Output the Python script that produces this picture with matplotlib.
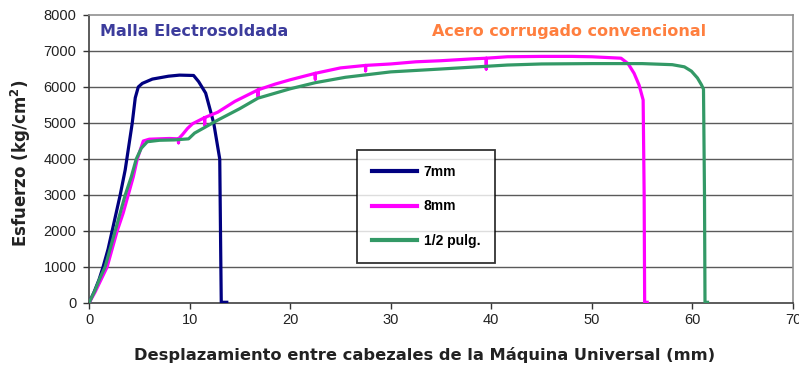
import matplotlib
matplotlib.use("Agg")
import matplotlib.pyplot as plt

plt.rcParams['font.family'] = ['Liberation Sans', 'DejaVu Sans']

# 7mm (Malla Electrosoldada)
x7 = [0, 0.5, 1.0, 1.4, 1.9, 2.3, 2.7, 3.1, 3.6, 4.3, 4.6, 4.9, 5.3, 6.3, 7.9, 9.0,
      10.4, 10.9, 11.6, 12.4, 13.0, 13.1, 13.15, 13.7]
y7 = [0, 300, 650, 1000, 1500, 2000, 2500, 3000, 3700, 5000, 5700, 6000, 6100, 6220,
      6300, 6330, 6320, 6150, 5830, 5000, 4000, 1300, 20, 20]

# 8mm
x8 = [0, 0.6, 1.2, 1.8, 2.3, 2.8, 3.4, 3.9, 4.4, 4.8, 5.4, 6.0, 7.0, 8.0, 8.9, 8.9, 8.9,
      9.3, 9.8, 10.3, 11.5, 11.5, 11.5, 12.8, 14.5, 16.8, 16.8, 16.8, 18.5, 20, 22.5, 22.5,
      22.5, 25, 27.5, 27.5, 27.5, 30, 32.5, 35, 38, 39.5, 39.5, 39.5, 41.6, 45, 48, 50,
      52.9, 53.6, 54.2, 54.7, 55.1, 55.2, 55.25, 55.5]
y8 = [0, 300, 650, 1000, 1500, 2000, 2500, 3000, 3500, 4000, 4500, 4550, 4560, 4570, 4560,
      4450, 4560, 4680, 4850, 4980, 5150, 4950, 5150, 5300, 5600, 5920, 5750, 5920, 6080,
      6200, 6380, 6220, 6380, 6530, 6600, 6450, 6600, 6640, 6700, 6730, 6780, 6800, 6500,
      6800, 6840, 6850, 6850, 6840, 6800, 6650, 6380, 6050, 5640, 3000, 20, 20]

# 1/2 pulg.
xg = [0, 0.6, 1.1, 1.6, 2.1, 2.6, 3.1, 3.6, 4.2, 4.7, 5.2, 5.8, 7.0, 8.5, 9.9, 10.5,
      12.8, 15, 16.8, 20, 22.5, 25.5, 30, 35, 41.6, 45, 50, 55, 58, 59.2, 59.9, 60.5,
      60.9, 61.1, 61.2, 61.25, 61.5]
yg = [0, 350, 700, 1000, 1500, 2000, 2500, 3000, 3500, 4000, 4300, 4480, 4520, 4530,
      4560, 4720, 5080, 5400, 5690, 5950, 6120, 6270, 6420, 6500, 6610, 6640, 6650, 6650,
      6620, 6560, 6440, 6250, 6060, 5940, 3000, 20, 20]

labels = ["7mm", "8mm", "1/2 pulg."]
colors = ["#000080", "#FF00FF", "#339966"]

xticks = [0, 10, 20, 30, 40, 50, 60, 70]
yticks = [0, 1000, 2000, 3000, 4000, 5000, 6000, 7000, 8000]

fig = plt.figure(figsize=(7.99, 3.69), dpi=100)
ax = fig.add_axes([89/799, 1-303/369, (793-89)/799, (303-15)/369])

for y in yticks[1:-1]:
    ax.axhline(y, color="#5a5a5a", lw=1.0, zorder=1)

ax.plot(x7, y7, color=colors[0], lw=2.3, label=labels[0], zorder=3)
ax.plot(x8, y8, color=colors[1], lw=2.3, label=labels[1], zorder=3)
ax.plot(xg, yg, color=colors[2], lw=2.3, label=labels[2], zorder=3)

ax.set_xlim(0, 70)
ax.set_ylim(0, 8000)
ax.set_xticks(xticks)
ax.set_yticks(yticks)
ax.tick_params(axis='both', direction='out', length=4, width=1, labelsize=10.5,
               colors='#333333', labelcolor='#222222')
ax.tick_params(axis='y', pad=5)
for s in ['left', 'bottom']:
    ax.spines[s].set_color('#404040')
    ax.spines[s].set_linewidth(1.2)
for s in ['top', 'right']:
    ax.spines[s].set_color('#909090')
    ax.spines[s].set_linewidth(1.2)

ax.set_xlabel("Desplazamiento entre cabezales de la Máquina Universal (mm)",
              fontsize=11.7, fontweight='bold', color='#222222',
              family='DejaVu Sans')
ax.xaxis.set_label_coords((425-89)/704, -(355-303)/288, transform=ax.transAxes)
ax.xaxis.label.set_va('center')
ax.set_ylabel("Esfuerzo (kg/cm$^\\mathbf{2}$)", fontsize=12, fontweight='bold',
              color='#222222', family='DejaVu Sans')
ax.yaxis.set_label_coords(-(89-21)/704, (303-163)/288, transform=ax.transAxes)
ax.yaxis.label.set_va('center')

ax.text(1.1, 7550, "Malla Electrosoldada", color="#3c3c9c", fontsize=11.5,
        fontweight='bold', va='center', ha='left', family='DejaVu Sans')
ax.text(34.1, 7550, "Acero corrugado convencional", color="#ff7f3f", fontsize=11.5,
        fontweight='bold', va='center', ha='left', family='DejaVu Sans')

leg = ax.legend(loc='upper left', bbox_to_anchor=(357/799, 1-150/369),
                bbox_transform=fig.transFigure, frameon=True, fancybox=False,
                edgecolor='black', fontsize=10, handlelength=3.3, labelspacing=1.5,
                borderpad=1.05, handletextpad=0.45, borderaxespad=0)
leg.get_frame().set_linewidth(1.3)
for t in leg.get_texts():
    t.set_fontweight('bold')
for l in leg.get_lines():
    l.set_linewidth(3)

fig.savefig("out.png", dpi=100)
